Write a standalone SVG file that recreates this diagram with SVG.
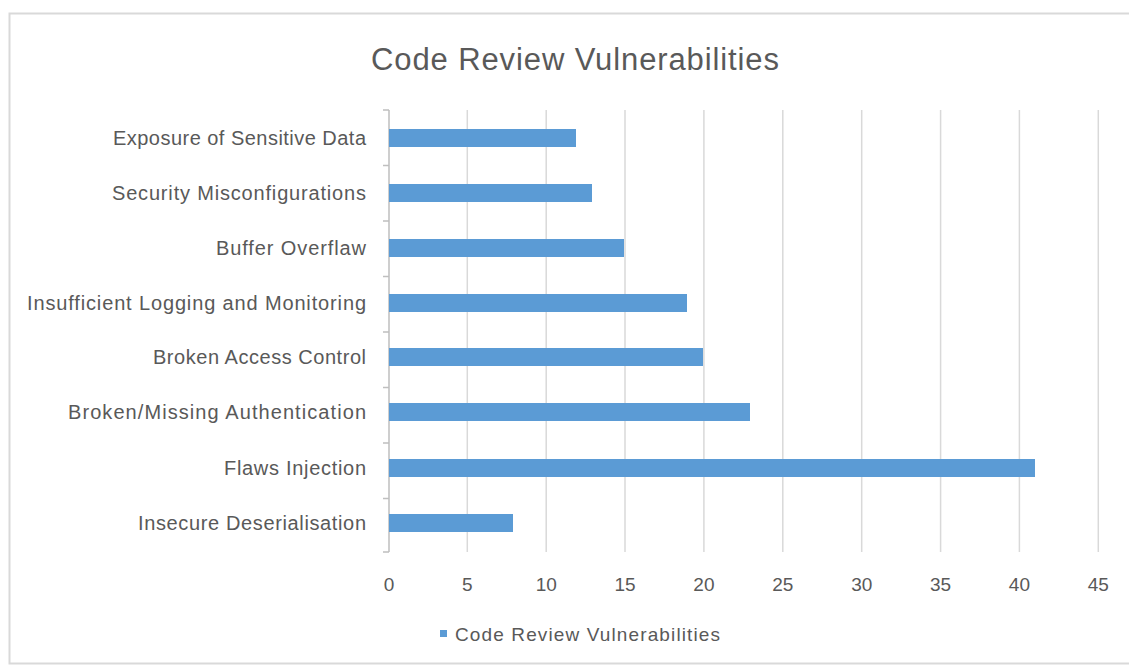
<svg xmlns="http://www.w3.org/2000/svg" width="1129" height="667" viewBox="0 0 1129 667">
<style>
.lbl{font-family:"Liberation Sans",Arial,sans-serif;font-size:20px;fill:#595959;text-anchor:end}
.tick{font-family:"Liberation Sans",Arial,sans-serif;font-size:19px;fill:#595959;text-anchor:middle}
.grid{stroke:#d9d9d9;stroke-width:1.5}
.bar{fill:#5b9bd5}
.ax{stroke:#bfbfbf;stroke-width:1.5;fill:none}
</style>
<rect x="0" y="0" width="1129" height="667" fill="#ffffff"/>
<rect x="9.5" y="13.5" width="1130" height="650" fill="#ffffff" stroke="#d9d9d9" stroke-width="2"/>
<text x="371" y="70" font-family="'Liberation Sans',Arial,sans-serif" font-size="31" fill="#595959" textLength="408">Code Review Vulnerabilities</text>
<g id="gridlines">
<line class="grid" x1="467.3" y1="110" x2="467.3" y2="552"/>
<line class="grid" x1="546.2" y1="110" x2="546.2" y2="552"/>
<line class="grid" x1="625" y1="110" x2="625" y2="552"/>
<line class="grid" x1="703.9" y1="110" x2="703.9" y2="552"/>
<line class="grid" x1="782.8" y1="110" x2="782.8" y2="552"/>
<line class="grid" x1="861.7" y1="110" x2="861.7" y2="552"/>
<line class="grid" x1="940.6" y1="110" x2="940.6" y2="552"/>
<line class="grid" x1="1019.4" y1="110" x2="1019.4" y2="552"/>
<line class="grid" x1="1098.3" y1="110" x2="1098.3" y2="552"/>
</g>
<g id="axis">
<path class="ax" d="M389,110 V552 M383,110 H389 M383,165.5 H389 M383,221 H389 M383,276.5 H389 M383,332 H389 M383,387.5 H389 M383,443 H389 M383,498.5 H389 M383,552 H389"/>
</g>
<g id="bars">
<rect class="bar" x="389" y="129" width="187" height="18"/>
<rect class="bar" x="389" y="184" width="203" height="18"/>
<rect class="bar" x="389" y="239" width="235" height="18"/>
<rect class="bar" x="389" y="294" width="298" height="18"/>
<rect class="bar" x="389" y="348" width="314" height="18"/>
<rect class="bar" x="389" y="403" width="361" height="18"/>
<rect class="bar" x="389" y="459" width="646" height="18"/>
<rect class="bar" x="389" y="514" width="124" height="18"/>
</g>
<g id="labels">
<text class="lbl" x="366" y="145" textLength="253">Exposure of Sensitive Data</text>
<text class="lbl" x="366" y="200" textLength="254">Security Misconfigurations</text>
<text class="lbl" x="366" y="255" textLength="150">Buffer Overflaw</text>
<text class="lbl" x="366" y="310" textLength="339">Insufficient Logging and Monitoring</text>
<text class="lbl" x="366" y="364" textLength="213">Broken Access Control</text>
<text class="lbl" x="366" y="419" textLength="298">Broken/Missing Authentication</text>
<text class="lbl" x="366" y="475" textLength="142">Flaws Injection</text>
<text class="lbl" x="366" y="530" textLength="228">Insecure Deserialisation</text>
</g>
<g id="ticks">
<text class="tick" x="389" y="591">0</text>
<text class="tick" x="467.3" y="591">5</text>
<text class="tick" x="546.2" y="591">10</text>
<text class="tick" x="625" y="591">15</text>
<text class="tick" x="703.9" y="591">20</text>
<text class="tick" x="782.8" y="591">25</text>
<text class="tick" x="861.7" y="591">30</text>
<text class="tick" x="940.6" y="591">35</text>
<text class="tick" x="1019.4" y="591">40</text>
<text class="tick" x="1098.3" y="591">45</text>
</g>
<g id="legend">
<rect x="440" y="630" width="7" height="7" fill="#5b9bd5"/>
<text x="455" y="641" font-family="'Liberation Sans',Arial,sans-serif" font-size="19" fill="#595959" textLength="265">Code Review Vulnerabilities</text>
</g>
</svg>
